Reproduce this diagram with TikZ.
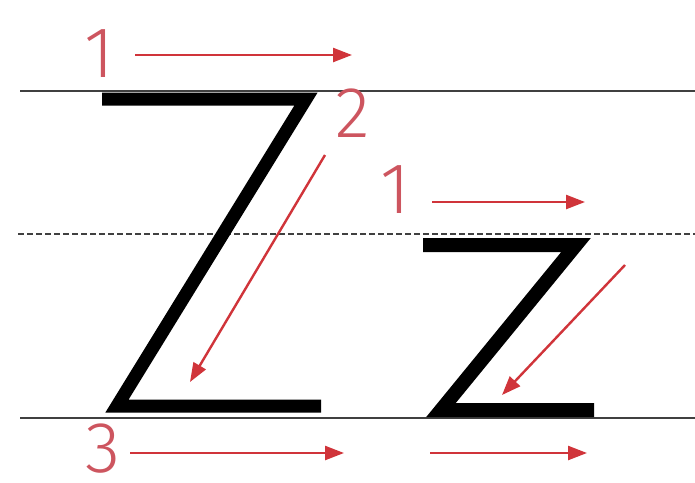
\documentclass[tikz,border=0pt]{standalone}
\usepackage{fontspec}
\newfontfamily\digitfont{Fira Sans Light}
\usetikzlibrary{arrows.meta}
\definecolor{strokered}{RGB}{208,52,58}
\definecolor{digitred}{RGB}{205,85,95}
\begin{document}
\begin{tikzpicture}[x=1pt,y=-1pt,
  guide/.style={line width=2.5pt,draw=black!75},
  letter/.style={line width=13pt,line join=miter,line cap=butt},
  order/.style={text=digitred,font=\digitfont\fontsize{72}{72}\selectfont,inner sep=0pt},
  stroke/.style={strokered,line width=2.4pt,-{Triangle[length=19pt,width=14pt]}}]
  \useasboundingbox[fill=white] (0,0) rectangle (695,482);
  \draw[guide] (20,91) -- (695,91);
  \draw[guide,dash pattern=on 6pt off 3pt] (18,234) -- (695,234);
  \draw[guide] (20,418) -- (695,418);
  \draw[letter] (102,99) -- (306,99) -- (117,406) -- (321,406);
  \draw[letter,line width=14pt] (423,245) -- (576,245) -- (441,410) -- (594,410);
  \node[order] (one) at (99,54) {1};
  \node[order] (two) at (353,113) {2};
  \node[order] (three) at (103,449) {3};
  \node[order] (onesmall) at (395,190) {1};
  \coordinate (a1) at (135,55);  \coordinate (b1) at (352,55);
  \coordinate (a2) at (325,155); \coordinate (b2) at (190,382);
  \coordinate (a3) at (130,453); \coordinate (b3) at (344,453);
  \coordinate (c1) at (432,202); \coordinate (d1) at (585,202);
  \coordinate (c2) at (625,265); \coordinate (d2) at (502,395);
  \coordinate (c3) at (430,453); \coordinate (d3) at (587,453);
  \draw[stroke] (a1) -- (b1);
  \draw[stroke] (a2) -- (b2);
  \draw[stroke] (a3) -- (b3);
  \draw[stroke] (c1) -- (d1);
  \draw[stroke] (c2) -- (d2);
  \draw[stroke] (c3) -- (d3);
\end{tikzpicture}
\end{document}
